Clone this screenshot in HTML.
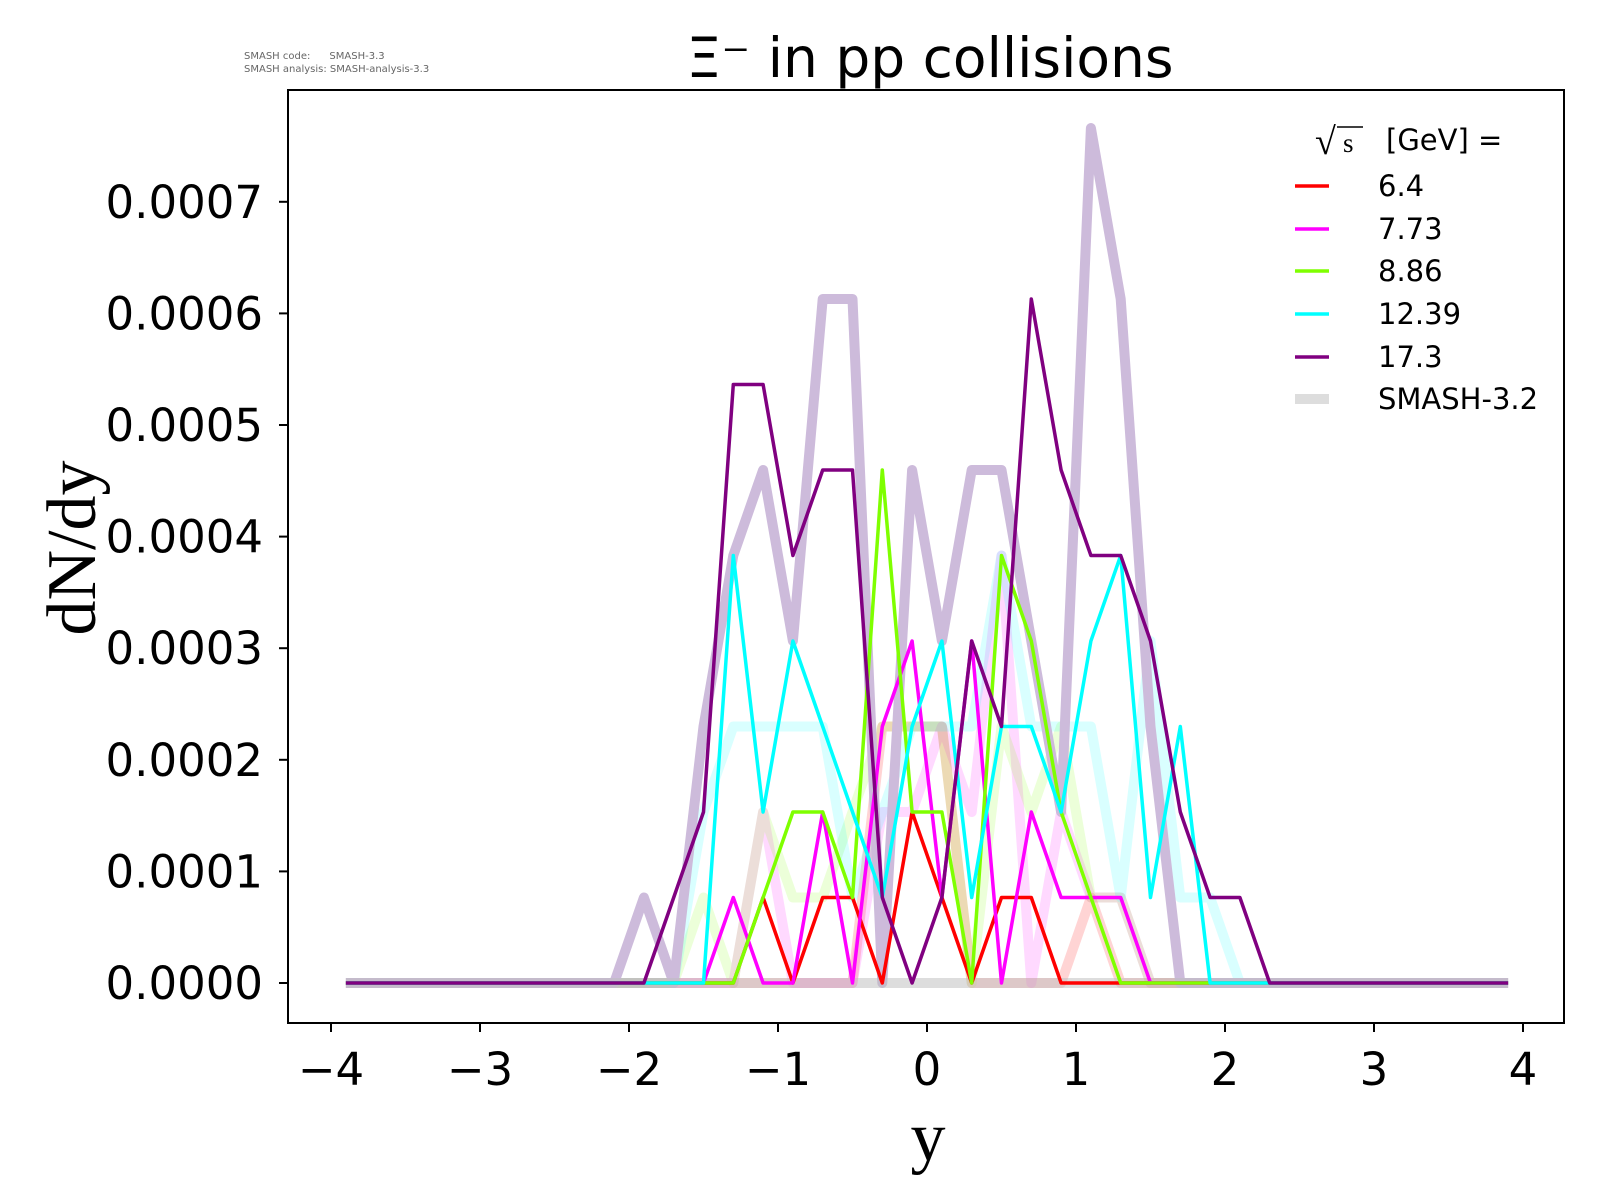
<!DOCTYPE html>
<html><head><meta charset="utf-8"><style>
html,body{margin:0;padding:0;background:#fff;}
svg{display:block;}
text{font-family:"DejaVu Sans","Liberation Sans",sans-serif;}
</style></head><body>
<svg id="s" width="1600" height="1200" viewBox="0 0 1600 1200" xmlns="http://www.w3.org/2000/svg">
<rect width="1600" height="1200" fill="#fff"/>
<text x="244" y="59" font-size="10" fill="#666" xml:space="preserve">SMASH code:      SMASH-3.3</text>
<text x="244" y="72" font-size="10" fill="#666">SMASH analysis: SMASH-analysis-3.3</text>
<text x="930" y="77" font-size="55" text-anchor="middle" fill="#000">Ξ⁻ in pp collisions</text>
<g id="refs"></g>
<g id="lines"></g>
<rect id="frame" x="288" y="90" width="1276" height="933" fill="none" stroke="#000" stroke-width="2"/>
<g id="ticks" font-size="45" fill="#000"></g>
<text x="928" y="1160" font-size="70" text-anchor="middle" style="font-family:'Liberation Serif',serif">y</text>
<text transform="translate(95,548) rotate(-90)" font-size="70" text-anchor="middle" style="font-family:'Liberation Serif',serif">dN/dy</text>
<g font-size="29" transform="translate(-7,0)">
<text x="1322" y="154" style="font-family:'Liberation Serif',serif" font-size="38">√</text>
<line x1="1344" y1="127" x2="1370" y2="127" stroke="#000" stroke-width="1.5"/>
<text x="1350" y="152" style="font-family:'Liberation Serif',serif" font-size="27">s</text>
<text x="1393" y="150">[GeV] =</text>
<line x1="1302" y1="186" x2="1336" y2="186" stroke="#ff0000" stroke-width="3.5"/><text x="1385" y="196">6.4</text>
<line x1="1302" y1="229" x2="1336" y2="229" stroke="#ff00ff" stroke-width="3.5"/><text x="1385" y="239">7.73</text>
<line x1="1302" y1="271" x2="1336" y2="271" stroke="#7fff00" stroke-width="3.5"/><text x="1385" y="281">8.86</text>
<line x1="1302" y1="314" x2="1336" y2="314" stroke="#00ffff" stroke-width="3.5"/><text x="1385" y="324">12.39</text>
<line x1="1302" y1="357" x2="1336" y2="357" stroke="#800080" stroke-width="3.5"/><text x="1385" y="367">17.3</text>
<line x1="1302" y1="399" x2="1336" y2="399" stroke="#ddd" stroke-width="10"/><text x="1385" y="409">SMASH-3.2</text>
</g>
</svg>
<script>
var NS="http://www.w3.org/2000/svg";
function X(x){return 927+149*x;}
function Y(u){return 983-85.5*u;}
function pts(m){var a=[];for(var k=0;k<40;k++){var x=+(-3.9+0.2*k).toFixed(1);var u=m[x.toFixed(1)]||0;a.push(X(x).toFixed(1)+","+Y(u).toFixed(1));}return a.join(" ");}
function add(g,m,col,w,op){var p=document.createElementNS(NS,"polyline");p.setAttribute("points",pts(m));p.setAttribute("fill","none");p.setAttribute("stroke",col);p.setAttribute("stroke-width",w);p.setAttribute("stroke-linejoin","round");if(op)p.setAttribute("stroke-opacity",op);document.getElementById(g).appendChild(p);}
add("refs",{"-0.3":3,"-0.1":3,"0.1":3,"1.1":1},"#ff0000",10,0.17);
add("refs",{"-1.1":2,"-0.3":2,"-0.1":2,"0.1":3,"0.3":2,"0.5":5,"0.9":2,"1.1":1,"1.3":1},"#ff00ff",10,0.15);
add("refs",{"-1.5":1,"-1.1":2,"-0.9":1,"-0.7":1,"-0.5":2,"-0.3":3,"-0.1":3,"0.1":3,"0.5":3,"0.7":2,"0.9":3,"1.1":1,"1.3":1},"#7fff00",10,0.15);
add("refs",{"-1.5":2,"-1.3":3,"-1.1":3,"-0.9":3,"-0.7":3,"-0.5":1,"-0.3":2,"-0.1":3,"0.1":3,"0.3":3,"0.5":5,"0.7":3,"0.9":3,"1.1":3,"1.3":1,"1.5":4,"1.7":1,"1.9":1},"#00ffff",10,0.15);
add("refs",{"-1.9":1,"-1.5":3,"-1.3":5,"-1.1":6,"-0.9":4,"-0.7":8,"-0.5":8,"-0.1":6,"0.1":4,"0.3":6,"0.5":6,"0.7":4,"0.9":2,"1.1":10,"1.3":8,"1.5":3},"#cdbbdb",10,1);
add("refs",{},"#bbb",10,0.5);
add("lines",{"-1.1":1,"-0.7":1,"-0.5":1,"-0.1":2,"0.1":1,"0.5":1,"0.7":1},"#ff0000",3.5);
add("lines",{"-1.3":1,"-0.7":2,"-0.3":3,"-0.1":4,"0.1":1,"0.3":4,"0.7":2,"0.9":1,"1.1":1,"1.3":1},"#ff00ff",3.5);
add("lines",{"-1.1":1,"-0.9":2,"-0.7":2,"-0.5":1,"-0.3":6,"-0.1":2,"0.1":2,"0.5":5,"0.7":4,"0.9":2,"1.1":1},"#7fff00",3.5);
add("lines",{"-1.3":5,"-1.1":2,"-0.9":4,"-0.7":3,"-0.5":2,"-0.3":1,"-0.1":3,"0.1":4,"0.3":1,"0.5":3,"0.7":3,"0.9":2,"1.1":4,"1.3":5,"1.5":1,"1.7":3},"#00ffff",3.5);
add("lines",{"-1.7":1,"-1.5":2,"-1.3":7,"-1.1":7,"-0.9":5,"-0.7":6,"-0.5":6,"-0.3":1,"0.1":1,"0.3":4,"0.5":3,"0.7":8,"0.9":6,"1.1":5,"1.3":5,"1.5":4,"1.7":2,"1.9":1,"2.1":1},"#800080",3.5);
var t=document.getElementById("ticks");
for(var i=0;i<8;i++){var y=983-111.6*i;
 var l=document.createElementNS(NS,"line");l.setAttribute("x1",279);l.setAttribute("x2",288);l.setAttribute("y1",y);l.setAttribute("y2",y);l.setAttribute("stroke","#000");l.setAttribute("stroke-width",2);t.appendChild(l);
 var tx=document.createElementNS(NS,"text");tx.setAttribute("x",263);tx.setAttribute("y",y+16);tx.setAttribute("text-anchor","end");tx.textContent=(i/10000).toFixed(4);t.appendChild(tx);}
for(var j=-4;j<=4;j++){var x=X(j);
 var l=document.createElementNS(NS,"line");l.setAttribute("x1",x);l.setAttribute("x2",x);l.setAttribute("y1",1023);l.setAttribute("y2",1032);l.setAttribute("stroke","#000");l.setAttribute("stroke-width",2);t.appendChild(l);
 var tx=document.createElementNS(NS,"text");tx.setAttribute("x",x);tx.setAttribute("y",1085);tx.setAttribute("text-anchor","middle");tx.textContent=(j<0?"\u2212"+(-j):""+j);t.appendChild(tx);}
</script>
</body></html>
